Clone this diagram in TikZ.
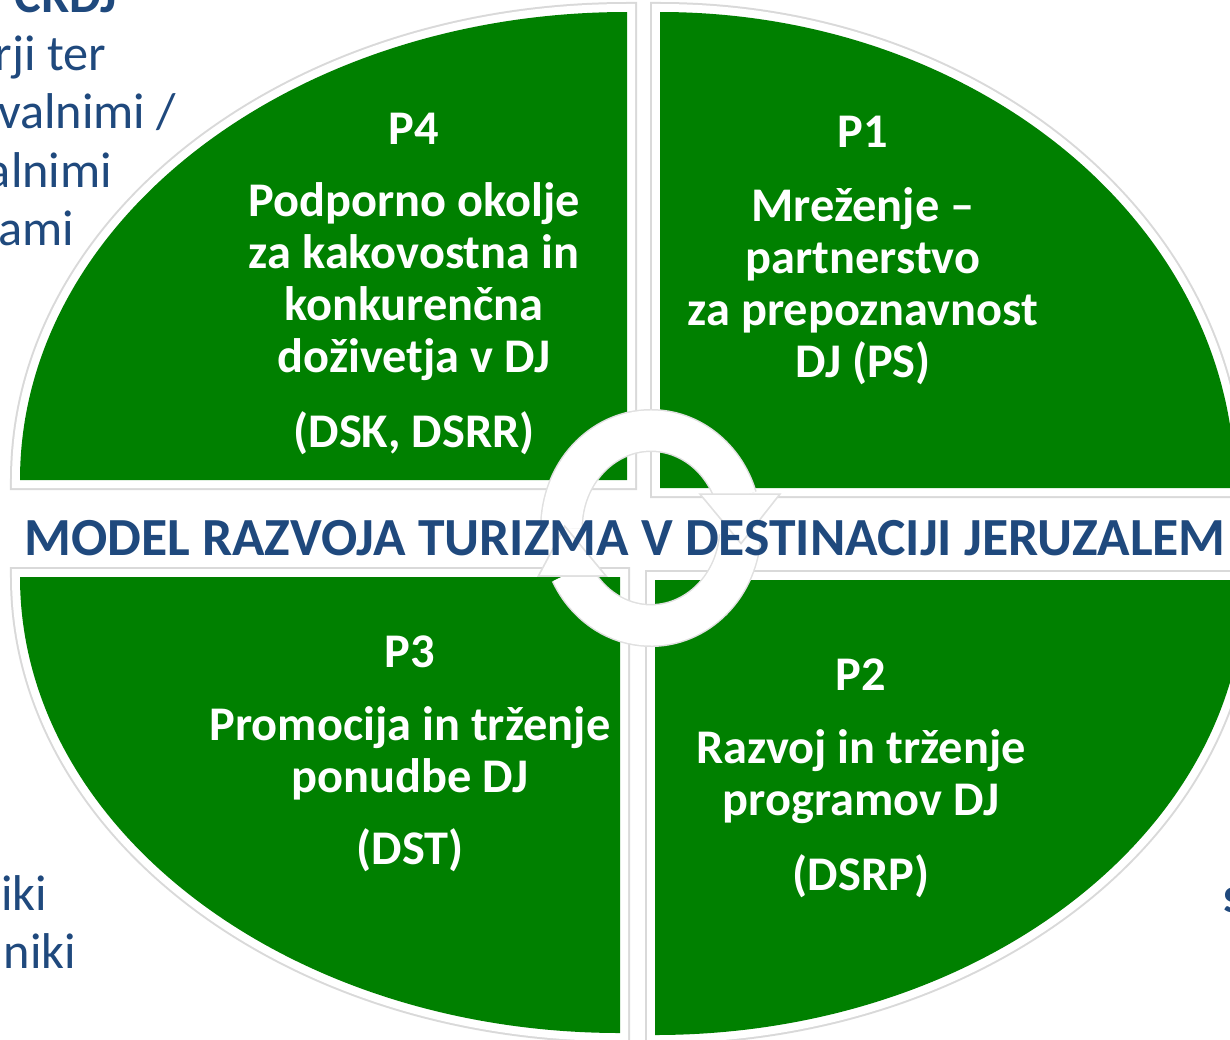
\documentclass[tikz,border=0pt]{standalone}
\usepackage{fontspec}
\setmainfont{Carlito}
\definecolor{quadgreen}{RGB}{0,128,0}
\definecolor{titleblue}{RGB}{31,73,125}
\tikzset{
  quad/.style={fill=quadgreen,
    preaction={draw=black!15, line width=0.2cm},
    preaction={draw=white, line width=0.16cm}},
  ringarc/.style={draw=white, line width=0.4cm,
    preaction={draw=black!12, line width=0.43cm}},
  ringhead/.style={fill=white, preaction={draw=black!12, line width=1pt}},
  quadtext/.style={text=white, align=center, inner sep=0pt,
    font=\bfseries\fontsize{13.75}{14.8}\selectfont},
  sidetext/.style={text=titleblue, inner sep=0pt,
    font=\fontsize{14.3}{16}\selectfont},
  sidebold/.style={sidetext, font=\bfseries\fontsize{14.3}{16}\selectfont}
}
\begin{document}
\begin{tikzpicture}[x=0.01cm, y=-0.01cm]
		\useasboundingbox (0,0) rectangle (1230,1039);
		\clip (0,0) rectangle (1230,1039);

		% text of the slide behind
		\node[sidebold, anchor=base east] (crdj) at (118,12) {CRDJ};
		\node[sidetext, anchor=base east] (side1) at (107,70) {rji ter};
		\node[sidetext, anchor=base east] (side2) at (177,128) {valnimi /};
		\node[sidetext, anchor=base east] (side3) at (113,187) {alnimi};
		\node[sidetext, anchor=base east] (side4) at (75,245) {ami};
		\node[sidetext, anchor=base east] (side5) at (48,910) {iki};
		\node[sidetext, anchor=base east] (side6) at (77,968) {niki};
		\node[sidebold, anchor=base west] (side7) at (1223,912) {s};

		% quadrants
		\fill[quad] (627,480) -- (20,480) arc[start angle=180, end angle=270, x radius=607, y radius=468] -- cycle;
		\fill[quad] (660,488) -- (660,12) arc[start angle=270, end angle=360, x radius=575, y radius=476] -- cycle;
		\fill[quad] (655,580) -- (1245,580) arc[start angle=0, end angle=90, x radius=590, y radius=455] -- cycle;
		\fill[quad] (620,577) -- (620,1033) arc[start angle=90, end angle=180, x radius=600, y radius=456] -- cycle;

		% cycle arrows
		\begin{scope}[shift={(651,528)}]
			\draw[ringarc] (180:89.5 and 97.5) arc[start angle=180, end angle=342, x radius=89.5, y radius=97.5];
			\draw[ringarc] (5:89.5 and 97.5) arc[start angle=5, end angle=153, x radius=89.5, y radius=97.5];
			\fill[ringhead] (51,-33) -- (127,-33) -- (90,14) -- cycle;
			\fill[ringhead] (-111,47) -- (-47,47) -- (-86,0) -- cycle;
		\end{scope}

		\node[anchor=base, inner sep=0pt, text=titleblue, font=\bfseries\fontsize{15.25}{16}\selectfont] (title) at (625,555) {MODEL RAZVOJA TURIZMA V DESTINACIJI JERUZALEM};

		\node[quadtext, anchor=north] (p4) at (414,112) {P4\\[5.7pt] Podporno okolje\\ za kakovostna in\\ konkurenčna\\ doživetja v DJ\\[6.5pt] (DSK, DSRR)};
		\node[quadtext, anchor=north] (p1) at (863,115) {P1\\[6.3pt] Mreženje –\\ partnerstvo\\ za prepoznavnost\\ DJ (PS)};
		\node[quadtext, anchor=north] (p3) at (410,635) {P3\\[6pt] Promocija in trženje\\ ponudbe DJ\\[5.7pt] (DST)};
		\node[quadtext, anchor=north] (p2) at (861,658) {P2\\[6pt] Razvoj in trženje\\ programov DJ\\[6.5pt] (DSRP)};
\end{tikzpicture}
\end{document}
